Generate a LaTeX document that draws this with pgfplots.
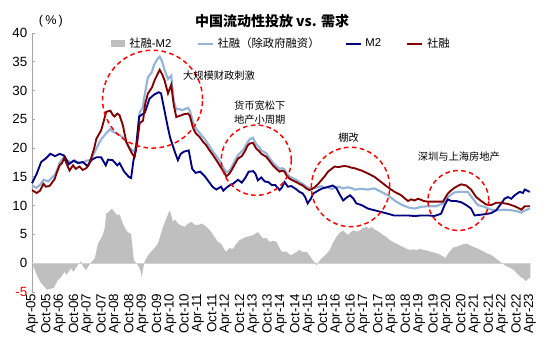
\documentclass[border=0pt]{standalone}
\usepackage{pgfplots}
\pgfplotsset{compat=1.18}
\usepackage{fontspec}
\setmainfont{Liberation Sans}
\newfontfamily\cjk{Noto Sans CJK SC}
\definecolor{areagray}{RGB}{191,191,191}
\definecolor{lblue}{RGB}{149,179,215}
\definecolor{navy}{RGB}{0,0,128}
\definecolor{dred}{RGB}{128,0,0}
\begin{document}
\begin{tikzpicture}
\begin{axis}[
  scale only axis, width=374.25pt, height=194.25pt,
  xmin=0, xmax=216.5, ymin=-5, ymax=40,
  clip=false,
  axis lines=left,
  x axis line style={draw=none,-},
  y axis line style={draw=gray!70,-},
  xtick={0,6,...,216},
  xticklabels={Apr-05,Oct-05,Apr-06,Oct-06,Apr-07,Oct-07,Apr-08,Oct-08,Apr-09,Oct-09,Apr-10,Oct-10,Apr-11,Oct-11,Apr-12,Oct-12,Apr-13,Oct-13,Apr-14,Oct-14,Apr-15,Oct-15,Apr-16,Oct-16,Apr-17,Oct-17,Apr-18,Oct-18,Apr-19,Oct-19,Apr-20,Oct-20,Apr-21,Oct-21,Apr-22,Oct-22,Apr-23},
  xtick style={draw=none},
  xticklabel style={rotate=90, anchor=east, font=\fontsize{10}{10}\selectfont, inner sep=1pt},
  ytick={-5,0,5,...,40},
  yticklabels={\textcolor{red}{-5},0,5,10,15,20,25,30,35,40},
  ytick style={draw=gray!70, line width=0.6pt},
  tick align=inside, major tick length=2pt,
  yticklabel style={font=\fontsize{10}{11}\selectfont},
  /pgf/number format/assume math mode=true,
  legend columns=4,
  legend style={draw=none, fill=none, at={(rel axis cs:0.50,0.958)}, anchor=center,
    font=\fontsize{8.5}{9}\selectfont, /tikz/every even column/.append style={column sep=17pt},
    /tikz/every odd column/.append style={column sep=1pt}},
  legend image code/.code={\draw[#1] (0pt,0pt) -- (11pt,0pt);},
]
\coordinate (bl) at (rel axis cs:0,0);
\coordinate (tr) at (rel axis cs:1,1);

\addplot[fill=areagray, draw=none, legend image code/.code={\fill[areagray] (0pt,-2.6pt) rectangle (11pt,2.6pt);}] coordinates {
(0,0) (1,-1) (2.5,-2.4) (4,-3.5) (5.4,-4.1) (6.5,-4.6) (8.3,-4.4) (9.5,-4.3) (11.2,-2.9) (12.5,-2.5) (14.1,-1.5) (15,-2.0) (17,-0.9) (18,-1.5) (19.9,-0.3) (21.3,0.35) (22,-0.5) (23.5,-1.2) (24.5,-0.5) (25.7,0.2) (27.2,0.8) (28.6,3.4) (29.5,4.0) (30.7,4.9) (31.5,6.0) (32.2,8.6) (33.5,9.0) (34.6,9.5) (36,8.8) (37.2,8.3) (38,8.5) (39.4,6.9) (40.5,6.0) (41.5,5.4) (43,5.1) (43.7,2.5) (44.2,0.5) (45.9,-0.3) (47,-1.2) (47.6,-2.4) (48.3,-0.8) (48.8,0.2) (50,1.2) (51.7,2.0) (53,2.6) (54.6,3.4) (55.5,4.5) (56.8,6.3) (58,7.5) (59.7,9.2) (60.3,8.5) (61.1,7.2) (62,7.6) (63.3,6.9) (64.5,6.6) (66.2,6.3) (67.5,6.8) (69.1,7.2) (70.5,6.7) (72,6.6) (73.5,6.9) (74.9,6.6) (76.5,6.0) (77.8,5.4) (79.3,4.5) (80.7,3.7) (82,3.4) (83.6,2.3) (84.3,2.0) (85.5,2.6) (87.2,2.5) (88.5,3.3) (90.1,4.0) (91.5,4.3) (93.1,4.6) (94.5,4.7) (96,4.9) (97,5.2) (98.1,5.4) (99,4.9) (100.3,4.3) (101.5,4.4) (103.2,3.7) (104.5,3.9) (106.1,3.7) (107.2,2.8) (108.3,2.0) (110.4,2.0) (111.5,1.6) (112.6,1.4) (114.5,1.9) (116.2,2.3) (117.5,1.9) (119.1,2.0) (120.2,1.5) (121.3,0.8) (122.5,0.2) (123.5,-0.4) (124.5,0.3) (125.6,0.8) (127.5,1.5) (129.2,2.3) (130.5,3.5) (132.1,4.6) (133.5,5.3) (135,5.7) (136,5.3) (137.2,4.9) (138.3,5.4) (139.4,5.7) (141,5.5) (142.3,5.7) (143.5,6.1) (145.2,6.3) (146.3,6.0) (147.3,6.3) (148.4,5.9) (149.5,5.7) (151,5.3) (152.4,4.9) (154,4.5) (155.3,4.0) (157,3.6) (158.2,3.4) (160,3.0) (161.1,2.8) (162.5,2.5) (164.1,2.3) (165.5,2.4) (167,2.3) (168.5,2.5) (169.9,2.3) (171.5,2.2) (172.8,2.0) (174,1.9) (175.7,1.7) (177,1.5) (178.6,1.1) (179.5,0.9) (180.1,1.4) (181.5,2.2) (183,2.8) (184.5,2.9) (185.9,3.1) (187,3.3) (188.8,3.4) (190,3.1) (191.7,2.8) (193,2.6) (194.6,2.3) (196,2.0) (197.5,1.7) (199,1.5) (200.4,1.1) (202,0.6) (203.3,0.2) (205,-0.3) (206.2,-0.6) (207.5,-0.8) (209.1,-1.2) (210.5,-1.8) (212,-2.4) (213,-2.6) (214.2,-3.1) (215,-2.8) (216.2,-2.5) (216.2,0)
} \closedcycle;
\addlegendentry{{\cjk 社融}-M2}

\addplot[lblue, line width=1.6pt] coordinates {
(0,13.5) (2,13.1) (3.5,13.6) (5,14.5) (7,14.2) (9.8,15.3) (11,16.3) (12,17.5) (14,18.5) (15,17.9) (17,17.5) (18.5,17.9) (20,17.5) (22,17.4) (23.5,17.8) (25,17.9) (26,18.3) (28,20.0) (30,21.5) (32,22.5) (34,23.3) (35,22.9) (36,22.7) (38,22.3) (39.5,21.8) (40.5,21.3) (42,20.2) (43.5,19.6) (44.5,19.5) (45.5,21.0) (46.7,26.2) (48,27.0) (49,29.5) (50.3,32.3) (52,33.2) (53,34.5) (54.5,35.5) (55.4,35.9) (56.5,35.0) (57.5,33.6) (59,32.0) (60.4,32.6) (61.5,28.2) (62.6,26.7) (64,26.8) (65,26.6) (66.5,26.8) (67.7,27.0) (68.5,26.5) (69.8,24.6) (71,23.5) (72.8,22.6) (74,22.0) (75.6,21.2) (77,20.3) (78.5,19.4) (80,18.6) (81.4,17.8) (83,16.6) (84.3,15.8) (85.5,16.0) (86.5,16.6) (88,17.8) (89.4,18.8) (91,19.4) (92.3,20.1) (93.5,21.0) (94.4,21.5) (95.9,21.8) (97.3,20.6) (98.5,20.2) (99.5,19.6) (101.6,19.1) (103,18.3) (104.5,17.5) (106,16.9) (107.4,16.4) (108.5,16.5) (109.6,16.3) (110.5,15.6) (111.7,15.1) (113,14.8) (114.6,14.5) (116,14.1) (117.5,13.8) (119,13.3) (120.4,13.0) (122,13.0) (124,13.2) (125.5,13.4) (127,13.1) (128.4,13.2) (130,12.9) (131.5,13.1) (133,13.3) (135,13.0) (137,13.2) (139,13.0) (140,12.8) (143,12.9) (145.7,12.8) (148.6,13.0) (151.5,12.4) (154.4,11.8) (157.3,10.9) (160.2,10.2) (163.1,9.7) (166,9.5) (168.9,9.8) (171.8,9.9) (175.4,9.9) (178.3,10.4) (180.4,11.5) (183.3,12.3) (186.2,12.4) (189.1,12.4) (191.3,11.2) (193.4,10.1) (196.3,9.8) (199.2,9.3) (202.1,9.2) (205,9.3) (208,9.2) (210.8,9.0) (212.3,8.8) (214,9.2) (216,9.5)
};
\addlegendentry{{\cjk 社融（除政府融资）}}

\addplot[navy, line width=1.4pt] coordinates {
(0,13.9) (2,15.5) (4,17.6) (6,18.2) (8,19.0) (10,18.6) (12,19.0) (14,18.7) (16,17.2) (18,17.8) (20,17.4) (22,17.6) (24,16.9) (26,18.0) (28,18.4) (30,18.4) (32,17.0) (33,18.0) (35,17.9) (37,17.0) (38,17.4) (40,15.9) (42,15.0) (43,14.8) (44,17.8) (45,19.6) (46.5,25.5) (48,25.9) (49,26.2) (51,28.6) (53,29.3) (55,29.7) (56,29.5) (57.5,26.5) (59,23.5) (60,21.7) (62,19.3) (63.3,17.9) (64.5,19.0) (66,19.4) (68,19.6) (69.5,16.4) (71,15.7) (73,15.9) (75,15.1) (77,14.0) (78.5,13.2) (80,12.8) (82,13.3) (83,12.6) (84.3,13.1) (86,13.6) (87.2,13.8) (89.4,14.5) (91,14.0) (92.5,14.8) (94,15.9) (96,16.0) (97,15.5) (98,14.4) (99.5,14.9) (101,14.2) (102.5,14.1) (104,13.6) (105.5,13.6) (107.4,12.7) (108.5,13.2) (109.6,14.1) (111,13.3) (112.5,13.4) (114.5,12.9) (116,12.4) (117.5,12.1) (118.5,11.5) (119.6,10.4) (121,11.2) (122,12.1) (124.5,12.7) (126,13.0) (128,13.2) (130.5,13.5) (132,13.1) (133,12.3) (135,10.9) (136.5,11.4) (138,11.8) (139.5,11.2) (140.7,10.4) (143,10.1) (145.7,9.5) (148.6,9.2) (151.5,8.9) (154.4,8.6) (157,8.3) (160,8.3) (163,8.3) (166,8.2) (169,8.3) (172,8.3) (174.6,8.2) (177.5,8.6) (179,10.1) (180.4,11.1) (182,10.8) (184,10.8) (186.2,10.6) (188.4,10.1) (190.5,9.5) (192,8.3) (194.2,8.4) (196.3,8.5) (199.2,8.7) (201.4,9.2) (203.6,10.4) (205,11.2) (206.5,11.5) (208,11.2) (209.4,11.8) (211.6,12.4) (213,12.2) (213.8,12.8) (216,12.4)
};
\addlegendentry{M2}

\addplot[dred, line width=1.4pt] coordinates {
(0,12.7) (2,12.2) (3.5,12.6) (5,13.8) (6,13.3) (7.6,13.4) (9.8,14.6) (11,16) (12,17.0) (13,17.4) (14,18.3) (15,17.3) (16.3,16.1) (17.8,17.0) (19,16.4) (20.6,16.8) (22,16.2) (23.5,16.5) (24.5,17.0) (25.7,18.3) (27,20) (27.9,21.6) (30,23.1) (31,24.5) (32.2,26.3) (34,26.5) (35,25.8) (35.8,25.5) (37,26.0) (38,25.7) (39.4,24.0) (40.9,21.1) (42.3,19.9) (43.5,19.0) (44.5,18.5) (45.5,20.5) (46.7,24.3) (48.2,24.8) (49,27.5) (50.3,29.5) (52,30.5) (53.2,31.8) (55.4,33.6) (56.5,32.8) (57.5,31.8) (59,29.5) (60.4,31.0) (61.5,27.5) (62.6,25.4) (64,25.6) (64.8,25.7) (66,25.9) (67.7,26.0) (68.5,25.6) (69.8,23.6) (71,22.6) (72.8,21.9) (74,21.2) (75.6,20.5) (77,19.6) (78.5,18.8) (80,17.9) (81.4,17.0) (83,16.0) (84.3,15.1) (85.5,15.5) (86.5,16.1) (88,17.2) (89.4,18.2) (91,18.6) (92.3,19.4) (93.5,20.4) (94.4,20.8) (95.9,20.9) (97.3,19.9) (98.5,19.5) (99.5,19.0) (101.6,18.5) (103,17.8) (104.5,17.0) (106,16.4) (107.4,15.9) (108.5,16.1) (109.6,15.9) (110.5,15.2) (111.7,14.7) (113,14.4) (114.6,14.1) (116,13.8) (117.5,13.5) (119,13.0) (120.4,12.7) (121.5,12.9) (122.6,13.2) (124,13.7) (125.5,14.4) (127,15.1) (128.4,15.9) (130,16.4) (131.3,16.8) (133,16.7) (134.2,16.8) (135.5,16.9) (137.1,16.8) (138.5,16.6) (140,16.5) (141.5,16.3) (143,16.1) (145.7,15.6) (148.6,15.0) (151.5,14.1) (154.4,13.2) (157.3,12.4) (160.2,11.8) (163.1,10.8) (164.5,11.1) (166,10.9) (167.5,11.2) (168.9,11.0) (170,10.8) (171.8,10.7) (175.4,10.7) (178.3,10.7) (180.4,12.1) (182,12.7) (183.3,13.1) (185,13.5) (186.2,13.7) (187.5,13.6) (188.4,13.5) (190.5,12.8) (192.7,11.5) (194.9,10.8) (197.1,10.2) (199.2,10.1) (201.4,10.5) (203.6,10.5) (206.5,10.3) (209.4,9.9) (211,9.6) (212.3,9.3) (213.8,9.9) (216,9.9)
};
\addlegendentry{{\cjk 社融}}

\draw[gray!35, line width=0.5pt] (axis cs:0,0) -- (axis cs:216.2,0);

\begin{scope}[red, line width=1.1pt, dash pattern=on 3.5pt off 2.5pt]
\draw (axis cs:52.3,28.5) ellipse [x radius=21.7, y radius=8.5];
\draw (axis cs:97.3,17.9) ellipse [x radius=15.2, y radius=6.1];
\draw (axis cs:138.2,13.25) ellipse [x radius=17, y radius=6.9];
\draw (axis cs:185,10.9) ellipse [x radius=13.2, y radius=5.2];
\end{scope}

\begin{scope}[font=\cjk\fontsize{7.7}{10}\selectfont]
\node[anchor=west, inner sep=0pt] at (axis cs:65.4,32.6) {大规模财政刺激};
\node[align=center, inner sep=0pt] at (axis cs:98.8,26.2) {货币宽松下\\地产小周期};
\node[inner sep=0pt] at (axis cs:137.4,21.9) {棚改};
\node[inner sep=0pt] at (axis cs:185.2,18.5) {深圳与上海房地产};
\end{scope}

\node[font=\cjk\bfseries\fontsize{10.5}{12}\selectfont, inner sep=0pt] at ([yshift=9pt]rel axis cs:0.481,1) {中国流动性投放 vs. 需求};
\node[font=\fontsize{9.5}{11}\selectfont, inner sep=0pt] at ([yshift=9pt]rel axis cs:0.038,1) {(\,\%\,)};
\end{axis}
\pgfresetboundingbox
\path ([shift={(-24pt,-44.25pt)}]bl) rectangle ([shift={(14.25pt,24.75pt)}]tr);
\end{tikzpicture}
\end{document}
